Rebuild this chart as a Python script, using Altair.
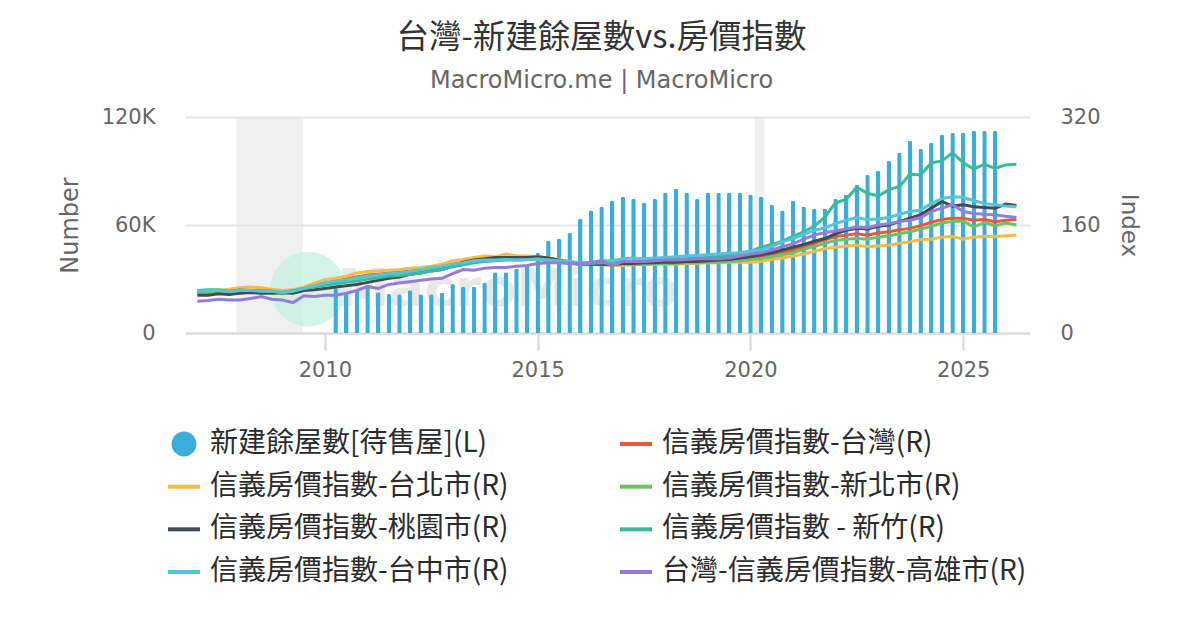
import altair as alt
import pandas as pd

TITLE = "台灣-新建餘屋數vs.房價指數"
SUBTITLE = "MacroMicro.me | MacroMicro"

BAR_NAME = "新建餘屋數[待售屋](L)"
LINE_NAMES = [
    "信義房價指數-台灣(R)",
    "信義房價指數-台北市(R)",
    "信義房價指數-新北市(R)",
    "信義房價指數-桃園市(R)",
    "信義房價指數 - 新竹(R)",
    "信義房價指數-台中市(R)",
    "台灣-信義房價指數-高雄市(R)",
]
SERIES_COLORS = ["#3AADDA", "#E9573F", "#F6BB42", "#6CC35F", "#434A54", "#37BC9B", "#57C3D6", "#967ADC"]

# quarterly observations
BAR_FIRST_QUARTER = 2010.25
LINE_FIRST_QUARTER = 2007.0

unsold_homes = [
    25000, 22000, 23500, 25700, 22600, 21700, 21500, 23700, 21500, 21500,
    22400, 27200, 25700, 25700, 28000, 33700, 33700, 35900, 38000, 44600,
    51300, 52400, 55700, 63500, 68000, 70200, 73500, 75700, 74600, 72400,
    74600, 77900, 80200, 77900, 74600, 77900, 77900, 77900, 77900, 76800,
    75700, 71300, 68000, 73500, 70200, 69100, 69100, 74600, 76800, 82400,
    87900, 90200, 95700, 100200, 106800, 102400, 105700, 110200, 111300, 111300,
    112400, 112400, 112400,
]

idx_taiwan = [
    60, 61, 62, 62, 63, 63, 62, 61, 60, 61, 65, 70, 74, 77, 80, 83,
    86, 87, 89, 90, 92, 94, 96, 98, 102, 105, 107, 108, 109, 110, 110, 110,
    110, 108, 106, 104, 102, 102, 102, 101, 102, 103, 103, 103, 104, 104, 105, 105,
    106, 106, 107, 109, 111, 113, 116, 119, 123, 128, 133, 138, 143, 145, 147, 145,
    148, 150, 153, 155, 159, 164, 168, 170, 170, 167, 168, 165, 167, 168,
]
idx_taipei = [
    61, 62, 63, 65, 67, 68, 67, 65, 63, 64, 68, 74, 79, 81, 84, 89,
    91, 92, 93, 94, 96, 97, 99, 102, 107, 109, 112, 114, 113, 117, 114, 114,
    113, 111, 109, 106, 103, 102, 101, 100, 100, 101, 101, 102, 102, 102, 103, 103,
    104, 104, 105, 105, 105, 106, 109, 111, 114, 117, 121, 125, 127, 129, 130, 128,
    129, 130, 133, 135, 138, 139, 142, 143, 139, 142, 143, 143, 144, 145,
]
idx_new_taipei = [
    59, 60, 61, 60, 61, 62, 61, 60, 58, 60, 64, 69, 73, 76, 79, 82,
    85, 86, 88, 89, 90, 92, 94, 96, 100, 103, 105, 107, 108, 109, 109, 109,
    109, 107, 105, 103, 101, 101, 101, 101, 102, 102, 102, 103, 103, 103, 104, 104,
    105, 105, 106, 107, 109, 110, 113, 116, 119, 124, 128, 133, 137, 139, 140, 139,
    142, 144, 147, 150, 154, 158, 163, 165, 166, 157, 164, 159, 163, 160,
]
idx_taoyuan = [
    56, 56, 58, 57, 59, 60, 59, 59, 60, 59, 63, 64, 66, 68, 70, 72,
    75, 78, 81, 83, 87, 89, 92, 94, 99, 105, 108, 110, 112, 112, 112, 112,
    113, 111, 108, 105, 103, 102, 102, 102, 103, 103, 104, 104, 105, 105, 106, 106,
    107, 108, 109, 111, 113, 116, 119, 123, 127, 131, 136, 140, 147, 152, 155, 154,
    158, 160, 165, 170, 175, 185, 195, 188, 190, 187, 186, 185, 191, 189,
]
idx_hsinchu = [
    63, 64, 64, 62, 64, 63, 63, 62, 60, 63, 66, 68, 71, 73, 75, 77,
    80, 82, 84, 85, 87, 89, 92, 94, 98, 101, 104, 106, 107, 108, 108, 109,
    110, 108, 106, 104, 102, 103, 104, 104, 106, 106, 107, 108, 109, 110, 110, 111,
    112, 113, 115, 118, 121, 127, 131, 136, 143, 150, 158, 172, 193, 198, 216, 207,
    203, 212, 217, 235, 234, 252, 255, 267, 252, 243, 250, 244, 249, 250,
]
idx_taichung = [
    62, 63, 63, 61, 63, 63, 62, 62, 60, 62, 66, 70, 74, 77, 78, 81,
    83, 86, 88, 89, 91, 94, 97, 99, 102, 104, 107, 108, 108, 109, 108, 109,
    109, 108, 107, 106, 104, 105, 107, 107, 110, 111, 110, 111, 112, 113, 114, 115,
    116, 117, 118, 119, 121, 123, 128, 135, 140, 146, 152, 156, 162, 167, 171, 168,
    169, 171, 176, 180, 182, 192, 199, 202, 201, 196, 192, 190, 188, 187,
]
idx_kaohsiung = [
    47, 48, 50, 49, 49, 51, 54, 50, 49, 45, 55, 54, 56, 56, 59, 63,
    69, 66, 72, 74, 76, 78, 80, 81, 88, 94, 93, 96, 97, 97, 99, 100,
    103, 104, 104, 103, 103, 104, 107, 99, 106, 106, 106, 107, 108, 108, 109, 110,
    110, 110, 111, 114, 117, 119, 123, 128, 132, 139, 145, 149, 151, 154, 157, 156,
    160, 162, 165, 167, 171, 180, 185, 190, 180, 177, 176, 175, 173, 171,
]
LINE_VALUES = [idx_taiwan, idx_taipei, idx_new_taipei, idx_taoyuan, idx_hsinchu, idx_taichung, idx_kaohsiung]

RECESSION_START = [2007.92, 2020.10]
RECESSION_END = [2009.48, 2020.33]

X_DOMAIN = [2006.71, 2026.57]
X_TICKS = [2010, 2015, 2020, 2025]
LEFT_DOMAIN = [0, 120000]
LEFT_TICKS = [0, 60000, 120000]
RIGHT_DOMAIN = [0, 320]
RIGHT_TICKS = [0, 160, 320]

WATERMARK_DATE = [2009.6]
WATERMARK_COUNT = [24400]
WATERMARK_TEXT_DATE = [2014.3]
WATERMARK_TEXT_COUNT = [24000]

# ---------- tables ----------
bar_df = pd.DataFrame({
    "date": [BAR_FIRST_QUARTER + 0.25 * i for i in range(len(unsold_homes))],
    "count": unsold_homes,
    "series": BAR_NAME,
})
rows = []
for name, vals in zip(LINE_NAMES, LINE_VALUES):
    for i, v in enumerate(vals):
        rows.append({"date": LINE_FIRST_QUARTER + 0.25 * i, "value": v, "series": name})
line_df = pd.DataFrame(rows)
rec_df = pd.DataFrame({"date": RECESSION_START, "end": RECESSION_END})
wm_df = pd.DataFrame({"date": WATERMARK_DATE, "count": WATERMARK_COUNT})
wmt_df = pd.DataFrame({"date": WATERMARK_TEXT_DATE, "count": WATERMARK_TEXT_COUNT})

ALL_NAMES = [BAR_NAME] + LINE_NAMES
legend_df = pd.DataFrame({
    "series": ALL_NAMES,
    "col": [i % 2 for i in range(len(ALL_NAMES))],
    "row": [i // 2 for i in range(len(ALL_NAMES))],
    "kind": ["bar"] + ["line"] * len(LINE_NAMES),
})

# ---------- scales & axes ----------
x_scale = alt.Scale(domain=X_DOMAIN, nice=False, zero=False, padding=0)
x_axis = alt.Axis(
    values=X_TICKS, format="d", title=None, grid=False,
    domainColor="#d9d9d9", domainWidth=2, tickColor="#d9d9d9", tickWidth=2, tickSize=17,
    labelPadding=9, labelFontSize=21, labelColor="#666666", labelFont="DejaVu Sans",
)
left_scale = alt.Scale(domain=LEFT_DOMAIN, nice=False)
left_axis = alt.Axis(
    orient="left", values=LEFT_TICKS, title="Number",
    labelExpr="datum.value == 0 ? '0' : (datum.value / 1000) + 'K'",
    grid=True, gridColor="#e6e6e6", gridWidth=2, domain=False, ticks=False,
    labelPadding=30, labelFontSize=21, labelColor="#666666", labelFont="DejaVu Sans",
    titleFontSize=24, titleColor="#666666", titleFont="DejaVu Sans", titleFontWeight="normal",
    titlePadding=19,
)
right_scale = alt.Scale(domain=RIGHT_DOMAIN, nice=False)
right_axis = alt.Axis(
    orient="right", values=RIGHT_TICKS, title="Index", grid=False, domain=False, ticks=False,
    labelPadding=30, labelFontSize=21, labelColor="#666666", labelFont="DejaVu Sans",
    titleFontSize=23, titleColor="#666666", titleFont="DejaVu Sans", titleFontWeight="normal",
    titlePadding=16,
)
color_scale = alt.Scale(domain=ALL_NAMES, range=SERIES_COLORS)

# ---------- plot layers ----------
shade = alt.Chart(rec_df).mark_rect(color="#e2e2e2", opacity=0.5).encode(
    x=alt.X("date:Q", scale=x_scale, axis=x_axis),
    x2="end:Q",
)
wm_circle = alt.Chart(wm_df).mark_point(
    filled=True, shape="circle", size=5600, color="#c3efe0", opacity=0.7
).encode(
    x=alt.X("date:Q", scale=x_scale, axis=x_axis),
    y=alt.Y("count:Q", scale=left_scale, axis=left_axis),
)
wm_text = alt.Chart(wmt_df).mark_text(
    text="MacroMicro", fontSize=52, fontWeight="bold", color="#e8e8e8", font="DejaVu Sans"
).encode(
    x=alt.X("date:Q", scale=x_scale, axis=x_axis),
    y=alt.Y("count:Q", scale=left_scale, axis=left_axis),
)
bars = alt.Chart(bar_df).mark_bar(size=4.5, cornerRadiusTopLeft=2, cornerRadiusTopRight=2).encode(
    x=alt.X("date:Q", scale=x_scale, axis=x_axis),
    y=alt.Y("count:Q", scale=left_scale, axis=left_axis),
    color=alt.Color("series:N", scale=color_scale, legend=None),
)
lines = alt.Chart(line_df).mark_line(strokeWidth=3).encode(
    x=alt.X("date:Q", scale=x_scale, axis=x_axis),
    y=alt.Y("value:Q", scale=right_scale, axis=right_axis),
    color=alt.Color("series:N", scale=color_scale, legend=None),
)

plot = alt.layer(alt.layer(shade, wm_circle, wm_text, bars), lines).resolve_scale(y="independent")

# ---------- legend (drawn as marks below the plot) ----------
leg_x = alt.X("col:Q", scale=alt.Scale(domain=[0, 1], range=[-1, 451]), axis=None)
leg_y = alt.Y("row:Q", scale=alt.Scale(domain=[0, 3], range=[327, 455]), axis=None)
leg_base = alt.Chart(legend_df)
leg_circle = leg_base.transform_filter("datum.kind === 'bar'").mark_point(
    shape="circle", filled=True, size=620, opacity=1
).encode(x=leg_x, y=leg_y, color=alt.Color("series:N", scale=color_scale, legend=None))
leg_stroke = leg_base.transform_filter("datum.kind === 'line'").mark_point(
    shape="stroke", filled=False, size=1024, strokeWidth=4, opacity=1
).encode(x=leg_x, y=leg_y, color=alt.Color("series:N", scale=color_scale, legend=None))
leg_text = leg_base.mark_text(
    align="left", baseline="middle", dx=26, fontSize=28, font="Noto Sans CJK TC", color="#2b2b2b"
).encode(x=leg_x, y=leg_y, text="series:N")
legend_layer = alt.layer(leg_circle, leg_stroke, leg_text)

chart = alt.layer(plot, legend_layer).resolve_scale(x="independent", y="independent").properties(
    width=845,
    height=216,
    autosize=alt.AutoSizeParams(type="none"),
    padding={"left": 177, "top": 109, "right": 162, "bottom": 289},
    title=alt.TitleParams(
        text=TITLE, subtitle=SUBTITLE,
        font="Noto Sans CJK TC", fontSize=32.5, fontWeight="normal", color="#333333",
        subtitleFont="DejaVu Sans", subtitleFontSize=24, subtitleColor="#666666",
        anchor="middle", frame="group", dx=-6, offset=13, subtitlePadding=15,
    ),
).configure_view(stroke=None)

chart.save("out.html", embed_options={"renderer": "svg", "actions": False})
